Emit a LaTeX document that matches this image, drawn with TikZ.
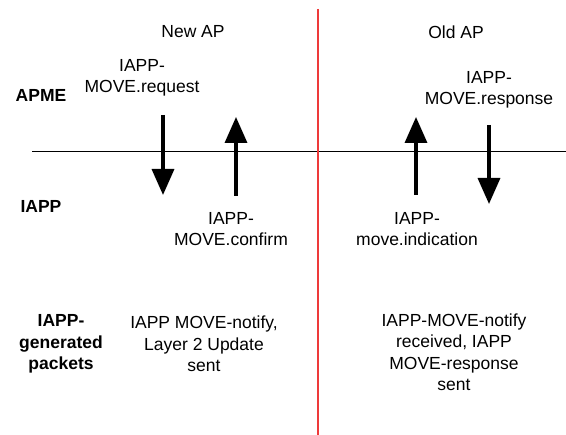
\documentclass[tikz,border=0pt]{standalone}
\usepackage{fontspec}
\setmainfont{Liberation Sans}
\usetikzlibrary{arrows.meta}
\definecolor{apred}{RGB}{238,58,58}

\begin{document}
\begin{tikzpicture}[x=1pt, y=-1pt,
    txt/.style={font=\fontsize{17.5}{21.5}\selectfont, align=center, inner sep=0pt},
    rowname/.style={txt, font=\fontsize{17.5}{21.5}\selectfont\bfseries},
    flow/.style={line width=3.5pt, -{Triangle[width=22pt, length=26pt]}}]
    \useasboundingbox (0, 0) rectangle (566, 435);
    % layer border and AP border
    \coordinate (layerL) at (32, 151);
    \coordinate (layerR) at (566, 151);
    \coordinate (apT) at (318, 9);
    \coordinate (apB) at (318, 435);
    \draw [line width=0.8pt] (layerL) -- (layerR);
    \draw [line width=2.5pt, apred] (apT) -- (apB);
    % column and row titles
    \node [txt] (newap) at (193, 32) {New AP};
    \node [txt] (oldap) at (456, 32) {Old AP};
    \node [rowname] (apme) at (41, 95) {APME};
    \node [rowname] (iapp) at (41, 206) {IAPP};
    \node [rowname] (packets) at (61, 344) {IAPP-\\generated\\packets};
    % primitives
    \node [txt] (request) at (142, 78) {IAPP-\\MOVE.request};
    \node [txt] (confirm) at (231, 229) {IAPP-\\MOVE.confirm};
    \node [txt] (response) at (489, 90) {IAPP-\\MOVE.response};
    \node [txt] (indication) at (417, 229) {IAPP-\\move.indication};
    \node [txt] (sentnew) at (204, 344) {IAPP MOVE-notify,\\Layer 2 Update\\sent};
    \node [txt] (sentold) at (454, 352) {IAPP-MOVE-notify\\received, IAPP\\MOVE-response\\sent};
    % arrows through the layer border
    \coordinate (reqA) at (163, 115);  \coordinate (reqB) at (163, 195);
    \coordinate (cnfA) at (236, 196);  \coordinate (cnfB) at (236, 117);
    \coordinate (indA) at (416, 195);  \coordinate (indB) at (416, 117);
    \coordinate (rspA) at (489, 125);  \coordinate (rspB) at (489, 204);
    \foreach \a/\b in {reqA/reqB, cnfA/cnfB, indA/indB, rspA/rspB}
    \draw [flow] (\a) -- (\b);
\end{tikzpicture}
\end{document}
